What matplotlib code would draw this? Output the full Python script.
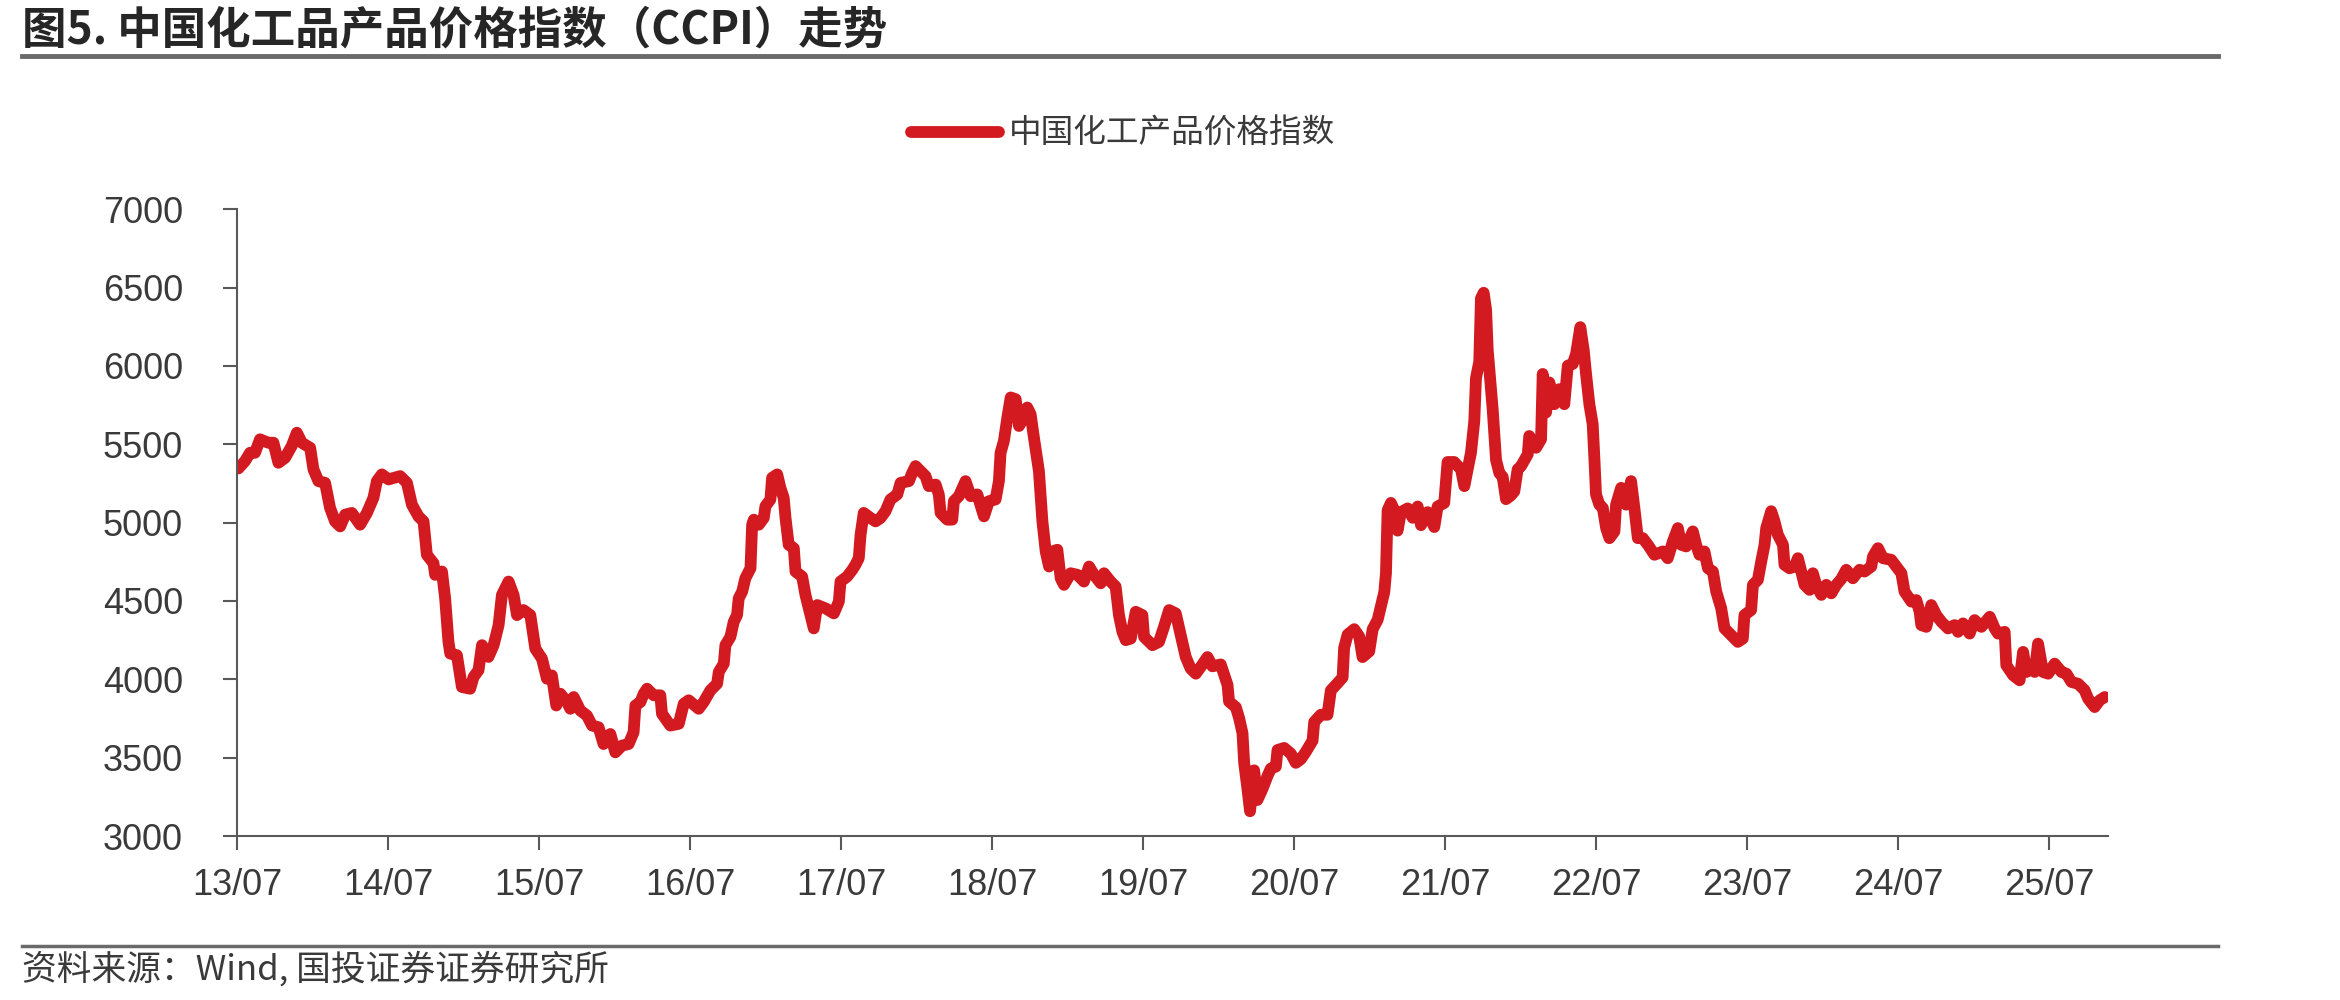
import matplotlib.pyplot as plt
from matplotlib.lines import Line2D

plt.rcParams['font.family'] = ['Liberation Sans', 'Noto Sans CJK SC', 'DejaVu Sans']

# CCPI readings, x as decimal year
years = [
    2013.509, 2013.553, 2013.586, 2013.619, 2013.652, 2013.707, 2013.741, 2013.774, 2013.818, 2013.862,
    2013.896, 2013.929, 2013.984,
    2014.006, 2014.039, 2014.083, 2014.116, 2014.149, 2014.183, 2014.216, 2014.260, 2014.315, 2014.360,
    2014.403, 2014.426, 2014.459, 2014.503, 2014.580, 2014.625, 2014.658, 2014.701, 2014.735, 2014.757,
    2014.801, 2014.812, 2014.857, 2014.878, 2014.900, 2014.912, 2014.956, 2014.989,
    2015.044, 2015.066, 2015.099, 2015.122, 2015.165, 2015.199, 2015.232, 2015.254, 2015.298, 2015.331,
    2015.354, 2015.397, 2015.442, 2015.475, 2015.519, 2015.552, 2015.585, 2015.614, 2015.641, 2015.685,
    2015.707, 2015.729, 2015.773, 2015.817, 2015.851, 2015.894, 2015.927, 2015.972,
    2016.005, 2016.049, 2016.093, 2016.126, 2016.138, 2016.171, 2016.193, 2016.215, 2016.259, 2016.303,
    2016.314, 2016.369, 2016.425, 2016.458, 2016.491, 2016.557, 2016.590, 2016.635, 2016.679, 2016.690,
    2016.723, 2016.734, 2016.767, 2016.789, 2016.811, 2016.822, 2016.845, 2016.866, 2016.900, 2016.911,
    2016.922, 2016.955, 2016.988, 2016.999,
    2017.032, 2017.043, 2017.077, 2017.098, 2017.120, 2017.132, 2017.153, 2017.187, 2017.198, 2017.242,
    2017.264, 2017.286, 2017.319, 2017.342, 2017.397, 2017.452, 2017.485, 2017.496, 2017.540, 2017.574,
    2017.595, 2017.617, 2017.629, 2017.650, 2017.695, 2017.728, 2017.761, 2017.794, 2017.827, 2017.872,
    2017.894, 2017.949, 2017.971, 2017.993,
    2018.026, 2018.059, 2018.081, 2018.126, 2018.147, 2018.159, 2018.203, 2018.236, 2018.247, 2018.280,
    2018.324, 2018.358, 2018.402, 2018.446, 2018.479, 2018.523, 2018.545, 2018.556, 2018.578, 2018.601,
    2018.623, 2018.656, 2018.678, 2018.711, 2018.733, 2018.755, 2018.777, 2018.810, 2018.833, 2018.855,
    2018.877, 2018.899, 2018.932, 2018.954, 2018.976,
    2019.020, 2019.065, 2019.108, 2019.142, 2019.175, 2019.219, 2019.241, 2019.285, 2019.318, 2019.340,
    2019.363, 2019.385, 2019.418, 2019.451, 2019.495, 2019.506, 2019.562, 2019.605, 2019.638, 2019.672,
    2019.716, 2019.749, 2019.782, 2019.815, 2019.849, 2019.882, 2019.926, 2019.959,
    2020.014, 2020.059, 2020.069, 2020.114, 2020.136, 2020.158, 2020.169, 2020.191, 2020.208, 2020.235,
    2020.257, 2020.290, 2020.324, 2020.346, 2020.379, 2020.390, 2020.434, 2020.478, 2020.511, 2020.544,
    2020.578, 2020.622, 2020.633, 2020.677, 2020.721, 2020.743, 2020.788, 2020.821, 2020.831, 2020.854,
    2020.898, 2020.931, 2020.953, 2020.997,
    2021.020, 2021.053, 2021.097, 2021.108, 2021.119, 2021.141, 2021.163, 2021.185, 2021.207, 2021.252,
    2021.285, 2021.318, 2021.340, 2021.384, 2021.428, 2021.450, 2021.494, 2021.516, 2021.560, 2021.605,
    2021.627, 2021.649, 2021.671, 2021.693, 2021.704, 2021.726, 2021.737, 2021.755, 2021.771, 2021.782,
    2021.815, 2021.837, 2021.859, 2021.881, 2021.903, 2021.936, 2021.958, 2021.980,
    2022.002, 2022.047, 2022.057, 2022.102, 2022.135, 2022.146, 2022.168, 2022.190, 2022.223, 2022.256,
    2022.289, 2022.312, 2022.345, 2022.367, 2022.395, 2022.418, 2022.433, 2022.455, 2022.477, 2022.488,
    2022.499, 2022.521, 2022.544, 2022.566, 2022.588, 2022.621, 2022.632, 2022.665, 2022.698, 2022.731,
    2022.753, 2022.776, 2022.809, 2022.842, 2022.886, 2022.941, 2022.974,
    2023.008, 2023.041, 2023.063, 2023.096, 2023.140, 2023.162, 2023.184, 2023.217, 2023.240, 2023.273,
    2023.295, 2023.328, 2023.350, 2023.394, 2023.438, 2023.471, 2023.482, 2023.526, 2023.538, 2023.571,
    2023.593, 2023.615, 2023.626, 2023.659, 2023.681, 2023.703, 2023.737, 2023.747, 2023.780, 2023.814,
    2023.836, 2023.858, 2023.880, 2023.913, 2023.935, 2023.957, 2023.991,
    2024.024, 2024.057, 2024.090, 2024.123, 2024.156, 2024.200, 2024.244, 2024.277, 2024.322, 2024.333,
    2024.366, 2024.399, 2024.454, 2024.487, 2024.521, 2024.542, 2024.587, 2024.620, 2024.642, 2024.653,
    2024.686, 2024.719, 2024.752, 2024.786, 2024.830, 2024.874, 2024.896, 2024.929, 2024.973,
    2025.006, 2025.051, 2025.106, 2025.139, 2025.161, 2025.205, 2025.216, 2025.261, 2025.304, 2025.327,
    2025.349, 2025.382, 2025.404, 2025.426, 2025.459, 2025.493, 2025.536, 2025.581, 2025.614, 2025.647,
    2025.691, 2025.735, 2025.758, 2025.801, 2025.834, 2025.868,
]

ccpi = [
    5346, 5393, 5446, 5446, 5532, 5510, 5510, 5382, 5414, 5489,
    5574, 5510, 5478,
    5340, 5265, 5254, 5094, 5008, 4976, 5051, 5062, 4987, 5062,
    5158, 5265, 5308, 5276, 5297, 5254, 5115, 5040, 5008, 4795,
    4741, 4667, 4688, 4517, 4239, 4164, 4154, 3951,
    3940, 4015, 4058, 4218, 4143, 4218, 4346, 4539, 4624, 4539,
    4410, 4442, 4410, 4196, 4132, 4004, 4025, 3833, 3908, 3855,
    3812, 3887, 3801, 3769, 3705, 3694, 3587, 3651,
    3534, 3577, 3587, 3662, 3833, 3855, 3908, 3940, 3898, 3898,
    3780, 3705, 3716, 3844, 3866, 3812, 3855, 3930, 3972, 4047,
    4100, 4218, 4271, 4367, 4410, 4517, 4560, 4645, 4709, 4987,
    5019, 4987, 5030, 5105,
    5148, 5286, 5308, 5222, 5158, 5030, 4859, 4837, 4688, 4656,
    4539, 4453, 4325, 4474, 4453, 4421, 4496, 4624, 4656, 4699,
    4731, 4773, 4923, 5062, 5030, 5008, 5030, 5073, 5148, 5180,
    5254, 5265, 5318, 5361,
    5329, 5297, 5233, 5243, 5180, 5062, 5019, 5019, 5137, 5169,
    5265, 5169, 5180, 5040, 5137, 5148, 5265, 5446, 5521, 5671,
    5799, 5788, 5617, 5671, 5735, 5692, 5542, 5329, 5008, 4816,
    4720, 4816, 4827, 4645, 4603,
    4677, 4667, 4624, 4720, 4667, 4613, 4677, 4624, 4592, 4410,
    4303, 4250, 4260, 4431, 4410, 4271, 4218, 4239, 4335, 4442,
    4421, 4282, 4143, 4068, 4036, 4080, 4142, 4083,
    4095, 3964, 3858, 3822, 3751, 3656, 3467, 3300, 3158, 3419,
    3230, 3300, 3384, 3431, 3443, 3549, 3562, 3526, 3467, 3490,
    3538, 3609, 3728, 3774, 3774, 3929, 3976, 4012, 4201, 4285,
    4320, 4273, 4142, 4178,
    4320, 4380, 4557, 4676, 5079, 5126, 5079, 4949, 5067, 5091,
    5031, 5103, 4984, 5067, 4972, 5103, 5126, 5387, 5387, 5340,
    5233, 5340, 5447, 5648, 5921, 6028, 6431, 6467, 6360, 6100,
    5720, 5400, 5316, 5292, 5150, 5174, 5200, 5340,
    5360, 5436, 5553, 5478, 5532, 5949, 5703, 5895, 5756, 5852,
    5756, 6002, 6013, 6077, 6248, 6098, 5949, 5756, 5628, 5414,
    5180, 5115, 5094, 4965, 4901, 4944, 5115, 5222, 5115, 5265,
    5094, 4901, 4901, 4859, 4795, 4816, 4773,
    4880, 4965, 4859, 4848, 4944, 4859, 4795, 4816, 4709, 4688,
    4560, 4453, 4325, 4282, 4239, 4260, 4410, 4442, 4603, 4635,
    4752, 4859, 4965, 5073, 5008, 4923, 4859, 4731, 4709, 4720,
    4773, 4688, 4603, 4571, 4677, 4603, 4539,
    4603, 4549, 4603, 4640, 4699, 4645, 4699, 4688, 4720, 4784,
    4837, 4773, 4763, 4720, 4677, 4560, 4496, 4506, 4431, 4346,
    4335, 4474, 4410, 4367, 4325, 4346, 4303, 4357, 4292,
    4378, 4335, 4399, 4325, 4292, 4303, 4090, 4026, 3994, 4175,
    4047, 4068, 4047, 4228, 4047, 4036, 4100, 4047, 4036, 3983,
    3972, 3930, 3876, 3823, 3866, 3887,
]

tick_years = list(range(2013, 2026))
tick_labels = [f"{y % 100:02d}/07" for y in tick_years]
y_ticks = list(range(3000, 7001, 500))

title = "图5. 中国化工品产品价格指数（CCPI）走势"
series_name = "中国化工产品价格指数"
source = "资料来源：Wind, 国投证券证券研究所"

red = '#D21A20'
axis_col = '#595959'
text_col = '#3a3a3a'

fig = plt.figure(figsize=(23.4, 10), dpi=100)
ax = fig.add_axes([0.1013, 0.164, 0.7996, 0.6267])

ax.plot(years, ccpi, color=red, lw=8.5, solid_joinstyle='round',
        solid_capstyle='round', label=series_name)

ax.set_xlim(2013.5, 2025.89)
ax.set_ylim(3000, 7000)
ax.set_xticks([y + 0.5 for y in tick_years])
ax.set_xticklabels(tick_labels)
ax.set_yticks(y_ticks)

for s in ['top', 'right']:
    ax.spines[s].set_visible(False)
for s in ['left', 'bottom']:
    ax.spines[s].set_color(axis_col)
    ax.spines[s].set_linewidth(1.5)

ax.tick_params(axis='both', length=10, width=1.5, color=axis_col,
               labelsize=26, labelcolor=text_col)
ax.tick_params(axis='y', pad=29)
ax.tick_params(axis='x', pad=13)

fig.legend(loc='center left', bbox_to_anchor=(911 / 2340, 0.866), frameon=False,
           borderaxespad=0, borderpad=0, handlelength=2.7, handletextpad=0.3,
           prop={'family': ['Noto Sans CJK SC'], 'size': 23.5}, labelcolor=text_col)

fig.text(22 / 2340, 0.970, title, fontsize=32, fontweight='bold', color='#262626',
         va='center', ha='left', family=['Noto Sans CJK SC', 'DejaVu Sans'])
fig.add_artist(Line2D([22 / 2340, 2218 / 2340], [0.944, 0.944], color='#6a6a6a', lw=3.5))

fig.add_artist(Line2D([22 / 2340, 2218 / 2340], [0.054, 0.054], color='#6a6a6a', lw=2.5))
fig.text(22 / 2340, 0.030, source, fontsize=25, color=text_col, va='center', ha='left',
         family=['Noto Sans CJK SC', 'DejaVu Sans'])

plt.savefig("out.png", dpi=100)
